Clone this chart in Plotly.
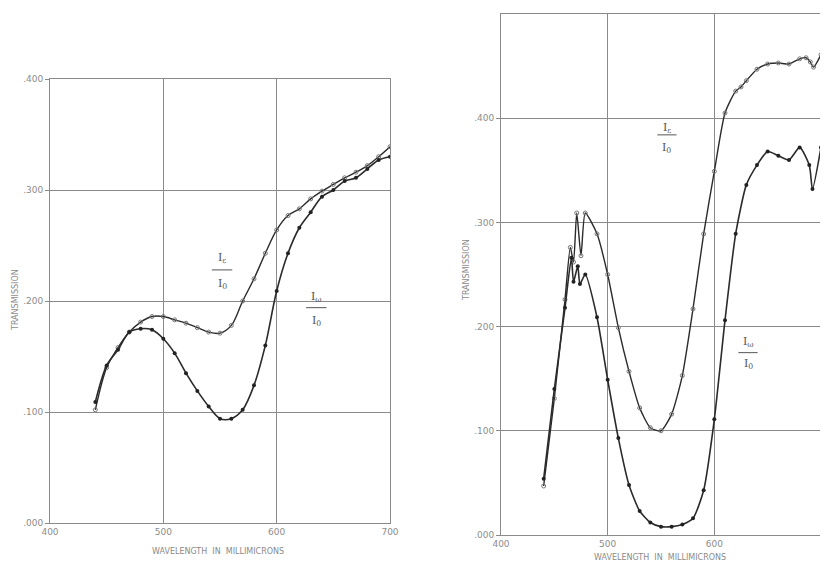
import plotly.graph_objects as go

# ---------------- data ----------------
left_nm = [440, 450, 460, 470, 480, 490, 500, 510, 520, 530, 540, 550, 560, 570,
           580, 590, 600, 610, 620, 630, 640, 650, 660, 670, 680, 690, 700]
left_ik = [0.102, 0.140, 0.158, 0.172, 0.181, 0.186, 0.186, 0.183, 0.180, 0.176,
           0.172, 0.171, 0.178, 0.200, 0.220, 0.243, 0.264, 0.277, 0.283, 0.292,
           0.299, 0.305, 0.311, 0.316, 0.322, 0.330, 0.339]
left_iw = [0.109, 0.142, 0.156, 0.172, 0.175, 0.174, 0.166, 0.153, 0.135, 0.119,
           0.105, 0.094, 0.094, 0.102, 0.124, 0.160, 0.209, 0.243, 0.266, 0.280,
           0.294, 0.300, 0.308, 0.311, 0.319, 0.327, 0.330]

right_ik_nm = [440, 450, 460, 465, 468, 471, 475, 479, 490, 500, 510, 520, 530, 540,
               550, 560, 570, 580, 590, 600, 610, 620, 625, 630, 640, 650, 660,
               670, 680, 686, 690, 693, 700]
right_ik = [0.047, 0.131, 0.226, 0.276, 0.262, 0.309, 0.268, 0.309, 0.289, 0.250,
            0.199, 0.157, 0.122, 0.103, 0.100, 0.116, 0.153, 0.217, 0.289, 0.349,
            0.405, 0.426, 0.430, 0.436, 0.447, 0.452, 0.453, 0.452, 0.457, 0.458,
            0.454, 0.449, 0.461]

right_iw_nm = [440, 450, 460, 466, 468, 472, 474, 479, 490, 500, 510, 520, 530, 540,
               550, 560, 570, 580, 590, 600, 610, 620, 630, 640, 650, 660, 670,
               680, 689, 692, 700]
right_iw = [0.054, 0.140, 0.218, 0.266, 0.243, 0.258, 0.241, 0.250, 0.209, 0.149,
            0.093, 0.048, 0.023, 0.012, 0.008, 0.008, 0.010, 0.016, 0.043, 0.111,
            0.206, 0.289, 0.336, 0.355, 0.368, 0.364, 0.360, 0.372, 0.355, 0.332,
            0.372]

x_ticks = [400, 500, 600, 700]
x_ticktext = ["400", "500", "600", "700"]
y_ticks = [0.0, 0.1, 0.2, 0.3, 0.4]
y_ticktext = [".000", ".100", ".200", ".300", ".400"]

# ---------------- styling ----------------
OFF = 8                      # page body margin in the browser
W, H = 828 - OFF, 568 - OFF
LINE = "#2b2b2b"
GRID = "#8a8a8a"
TICKF = dict(family="DejaVu Sans", size=9, color="#8c8c8c")

def px(X):
    return (X - OFF) / W

def py(Y):
    return 1 - (Y - OFF) / H

fig = go.Figure()

def add_pair(xk, yk, xw, yw, xa, ya, smooth):
    fig.add_trace(go.Scatter(
        x=xk, y=yk, mode="lines+markers", xaxis=xa, yaxis=ya,
        line=dict(color=LINE, width=1.4, shape="spline", smoothing=smooth),
        marker=dict(symbol="circle-open", size=4, color="#777", line=dict(width=1)),
        showlegend=False, hoverinfo="skip"))
    fig.add_trace(go.Scatter(
        x=xw, y=yw, mode="lines+markers", xaxis=xa, yaxis=ya,
        line=dict(color=LINE, width=1.6, shape="spline", smoothing=smooth),
        marker=dict(symbol="circle", size=4, color="#222"),
        showlegend=False, hoverinfo="skip"))

add_pair(left_nm, left_ik, left_nm, left_iw, "x", "y", 0.9)
add_pair(right_ik_nm, right_ik, right_iw_nm, right_iw, "x2", "y2", 0.6)

def xax(domain):
    return dict(domain=domain, range=[400, 700], tickvals=x_ticks, ticktext=x_ticktext,
                showgrid=True, gridcolor=GRID, gridwidth=1, zeroline=False,
                showline=True, linecolor=GRID, linewidth=1, mirror=True,
                ticks="", tickfont=TICKF, fixedrange=True, automargin=False)

def yax(domain, top, anchor):
    return dict(domain=domain, range=[0, top], tickvals=y_ticks, ticktext=y_ticktext,
                showgrid=True, gridcolor=GRID, gridwidth=1, zeroline=False,
                showline=True, linecolor=GRID, linewidth=1, mirror=True,
                ticks="outside", ticklen=4, tickcolor=GRID, tickfont=TICKF,
                anchor=anchor, fixedrange=True, automargin=False)

fig.update_layout(
    width=W, height=H,
    margin=dict(l=0, r=0, t=0, b=0, autoexpand=False),
    paper_bgcolor="white", plot_bgcolor="white",
    xaxis=xax([px(50), px(390)]) | dict(anchor="y"),
    yaxis=yax([py(523), py(79)], 0.4, "x"),
    xaxis2=xax([px(501), px(821)]) | dict(anchor="y2"),
    yaxis2=yax([py(535), py(14)], 0.5, "x2"),
)

# axis titles
TITLEF = dict(family="DejaVu Sans", size=8, color="#8a8a8a")
for txt, X, Y, ang in [("WAVELENGTH  IN  MILLIMICRONS", 218, 551, 0),
                       ("WAVELENGTH  IN  MILLIMICRONS", 660, 557, 0),
                       ("TRANSMISSION", 15, 300, -90),
                       ("TRANSMISSION", 466, 270, -90)]:
    fig.add_annotation(text=txt, x=px(X), y=py(Y), textangle=ang,
                       xanchor="center", yanchor="middle",
                       xref="paper", yref="paper", showarrow=False, font=TITLEF)

# fraction labels  I_e / I_0 and I_w / I_0
LABF = dict(family="DejaVu Serif", size=11, color="#555")

def fraction(xr, yr, xc, ynum, yline, yden, half, sub):
    fig.add_annotation(text=f"I<sub>{sub}</sub>", x=xc, y=ynum, xref=xr, yref=yr,
                       xanchor="center", yanchor="middle",
                       showarrow=False, font=LABF)
    fig.add_annotation(text="I<sub>0</sub>", x=xc, y=yden, xref=xr, yref=yr,
                       xanchor="center", yanchor="middle",
                       showarrow=False, font=LABF)
    fig.add_shape(type="line", xref=xr, yref=yr, x0=xc - half, x1=xc + half,
                  y0=yline, y1=yline, line=dict(color="#555", width=1))

fraction("x", "y", 551.8, 0.239, 0.228, 0.215, 9, "ε")
fraction("x", "y", 635.0, 0.204, 0.194, 0.182, 9, "ω")
fraction("x2", "y2", 555.6, 0.391, 0.384, 0.371, 9, "ε")
fraction("x2", "y2", 631.6, 0.185, 0.175, 0.164, 9, "ω")

fig.write_html("out.html")
